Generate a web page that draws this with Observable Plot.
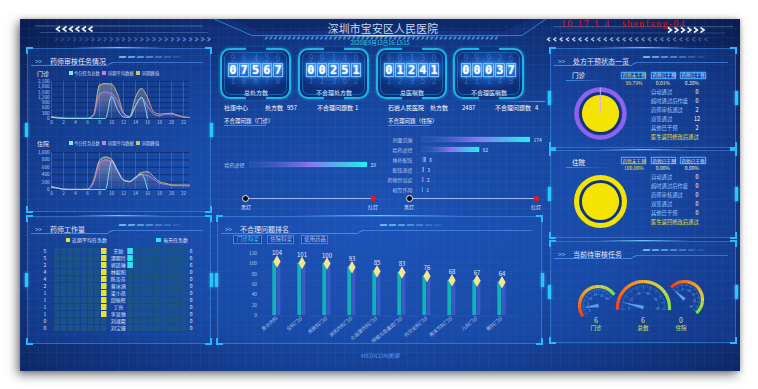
<!DOCTYPE html>
<html lang="zh"><head><meta charset="utf-8">
<script src="https://cdn.jsdelivr.net/npm/d3@7"></script>
<script src="https://cdn.jsdelivr.net/npm/@observablehq/plot@0.6"></script>
<style>
*{box-sizing:border-box}
html,body{margin:0;padding:0;width:758px;height:389px;overflow:hidden;background:#fff;font-family:"Noto Sans CJK SC","Noto Sans",sans-serif;}
body{position:relative}
#bg{position:absolute;left:20px;top:19px;width:720px;height:352px;
 background:
  repeating-linear-gradient(0deg, rgba(120,170,255,0.06) 0 1px, transparent 1px 9px),
  repeating-linear-gradient(90deg, rgba(120,170,255,0.06) 0 1px, transparent 1px 9px),
  radial-gradient(ellipse 72% 78% at 50% 58%, #1d52b6 0%, #17469f 45%, #0f2d72 80%, #0a1d50 100%);
 box-shadow:-3px 4px 10px rgba(0,0,0,0.5), 0 0 4px rgba(0,0,0,0.25);}
.panel{position:absolute;border:1px solid rgba(70,150,240,0.5);background:rgba(30,85,190,0.28);}
.cn{position:absolute;width:7px;height:7px;border-color:#29b9ff;border-style:solid;border-width:0}
svg{overflow:visible}
</style></head>
<body>
<div id="bg"></div>
<script>
// ===================== DATA =====================
const hours = d3.range(24);
const xHourTicks = d3.range(0, 23, 2);
// 门诊 (outpatient) audit tasks per hour
const outToday = [60,25,5,0,0,0,0,0,0,0,1250,520,90,60,720,1190,0];
const outAvg   = [80,50,15,10,10,10,10,160,1380,1510,1420,1000,250,100,720,1190,720,250,150,250,250,150,80,60];
const outPeak  = [100,60,20,15,15,15,15,220,1890,1980,1950,1380,340,110,1190,1700,1190,380,250,280,300,190,90,60];
// 住院 (inpatient)
const inToday  = [60,30,5,0,0,0,0,0,0,0,770,520,250,210,330,420,0];
const inAvg    = [70,40,10,5,5,5,5,180,700,800,760,480,250,210,300,400,380,280,170,140,110,105,105,100];
const inPeak   = [80,45,10,5,5,5,10,240,780,880,820,510,260,220,330,460,480,350,210,170,125,120,120,120];
const lineLegend = ["今日任务总数","同期平均数据","同期峰值"];

// 药师工作量
const pharmacists = ["王励","谭丽玲","郭凯琳","林毅阳","陈杏芳","曾冰涵","梁小燕","邱振辉","丁亮","李显驰","刘淑霞","刘宝珊"];
const recentAvgTasks = [5,5,2,4,4,2,1,1,1,1,0,0];
const todayTasks     = [6,6,6,0,0,0,0,0,0,0,0,0];

// counters
const counterLabels = ["总处方数","不合理处方数","总医嘱数","不合理医嘱数"];
const counterValues = [7567, 251, 1241, 37];
const sites = ["社康中心","石岩人民医院"];
const sitePrescriptions = [957, 2487];
const siteProblems = [1, 4];

// 不合理问题
const outProblemCats = ["给药途径"];
const outProblemVals = [29];
const inProblemCats = ["剂量范围","给药途径","体外配伍","配伍浓度","药物禁忌症","相互作用"];
const inProblemVals = [174, 92, 6, 3, 2, 1];

// 不合理问题排名
const rankTabs = ["门诊科室","住院科室","使用药品"];
const rankDepts = ["急诊内科","全科门诊","皮肤科门诊","消化内科门诊","心血管内科门诊","呼吸与危重症门诊","内分泌科门诊","骨关节科门诊","儿科门诊","眼科门诊"];
const rankValues = [104,101,100,93,85,83,76,68,67,64];

// 处方干预状态
const interveneHeads = ["药师未干预","药师已干预","药师已干预"];
const outInterPct = ["99.79%","0.01%","0.20%"];
const inInterPct = ["100.00%","0.00%","0.00%"];
const statusLabels = ["自动通过","超时通过后作废","药师审核通过","双签通过","其他已干预","医生返回修改后通过"];
const outStatus = [0,0,2,12,2];
const inStatus = [0,0,0,0,0];
const outUntouchedShare = 0.9979;
const inUntouchedShare = 1.0;

// 当前待审核任务
const gaugeLabels = ["门诊","总数","住院"];
const gaugeValues = [6, 6, 0];
const gaugeMax = [40, 60, 40];

// ===================== HELPERS =====================
const FONT = '"Noto Sans CJK SC","Noto Sans",sans-serif';
const root = document.body;
function el(tag, css, html){const e=document.createElement(tag);e.style.cssText=css;if(html!=null)e.innerHTML=html;root.appendChild(e);return e;}
function txt(s,x,y,size,color,anchor="start",extra=""){
  const tx = anchor==="middle"?"-50%":anchor==="end"?"-100%":"0";
  const ox = anchor==="middle"?"50%":anchor==="end"?"100%":"0";
  const k = size/12;
  return el("div",`position:absolute;left:${x}px;top:${y}px;font-size:12px;line-height:1;white-space:nowrap;color:${color};transform-origin:${ox} 50%;transform:translate(${tx},-50%) scale(${k});${extra}`, s);
}
function place(node,x,y){const d=el("div",`position:absolute;left:${x}px;top:${y}px;line-height:0`);d.appendChild(node);return d;}
function addDefs(svg, html){d3.select(svg).insert("defs",":first-child").html(html);}

function panel(x,y,w,h,title){
  el("div",`left:${x}px;top:${y}px;width:${w}px;height:${h}px`).className="panel";
  const c=(cx,cy,bw)=>{const d=el("div",`left:${cx}px;top:${cy}px;border-width:${bw}`);d.className="cn";};
  c(x-1,y-1,"2px 0 0 2px"); c(x+w-6,y-1,"2px 2px 0 0"); c(x-1,y+h-6,"0 0 2px 2px"); c(x+w-6,y+h-6,"0 2px 2px 0");
  el("div",`position:absolute;left:${x-2}px;top:${y+h/2-7}px;width:3px;height:14px;background:#2cc6ff;box-shadow:0 0 3px #2cc6ff`);
  el("div",`position:absolute;left:${x+w-1}px;top:${y+h/2-7}px;width:3px;height:14px;background:#2cc6ff;box-shadow:0 0 3px #2cc6ff`);
  el("div",`position:absolute;left:${x+w*0.25}px;top:${y-1}px;width:${w*0.5}px;height:1px;background:linear-gradient(90deg,transparent,#6cc6ff,transparent)`);
  if(title){
    txt("&gt;&gt;",x+8,y+13,6.5,"#8fc5ff");
    txt(title,x+23,y+13,7,"#e2eaff");
    el("div",`position:absolute;left:${x+4}px;top:${y+17}px;width:${w*0.42}px;height:1px;background:rgba(90,160,255,0.7)`);
    el("div",`position:absolute;left:${x+4+w*0.42}px;top:${y+15}px;width:5px;height:1px;background:rgba(90,160,255,0.7);transform:rotate(-25deg)`);
    el("div",`position:absolute;left:${x+8+w*0.42}px;top:${y+14}px;width:${w*0.56-12}px;height:1px;background:rgba(90,160,255,0.55)`);
    for(let i=0;i<7;i++){
      el("div",`position:absolute;left:${x+w*0.5+i*9}px;top:${y+8}px;width:7px;height:2px;background:rgba(110,195,255,${0.9-i*0.12});transform:skewX(-30deg)`);
    }
  }
}

// ===================== HEADER =====================
const hdr = d3.create("svg").attr("width",758).attr("height",50).style("position","absolute").style("left","0").style("top","0");
hdr.append("path").attr("d","M214,19 L252,35.5 L522,35.5 L546,19").attr("fill","none").attr("stroke","#2a7fe0").attr("stroke-width",1);
hdr.append("path").attr("d","M232,19 L258,31 L505,31 L530,19").attr("fill","rgba(10,30,80,0.35)").attr("stroke","none");
const hg = hdr.append("defs").append("linearGradient").attr("id","hglow");
hg.append("stop").attr("offset",0).attr("stop-color","#fff6c0").attr("stop-opacity",0);
hg.append("stop").attr("offset",0.5).attr("stop-color","#fff6c0").attr("stop-opacity",1);
hg.append("stop").attr("offset",1).attr("stop-color","#fff6c0").attr("stop-opacity",0);
for(let sx=264; sx<496; sx+=4.6){
  hdr.append("path").attr("d",`M${sx+2},36.5 L${sx+4.2},36.5 L${sx+2.6},39.5 L${sx+0.4},39.5 Z`).attr("fill","#3c8fe6");
}
hdr.append("rect").attr("x",320).attr("y",35).attr("width",120).attr("height",1.5).attr("fill","url(#hglow)");
// side decorations
hdr.append("line").attr("x1",35).attr("y1",26).attr("x2",203).attr("y2",26).attr("stroke","rgba(150,190,255,0.55)").attr("stroke-width",0.8);
hdr.append("line").attr("x1",40).attr("y1",32.5).attr("x2",208).attr("y2",32.5).attr("stroke","rgba(150,190,255,0.35)").attr("stroke-width",0.8);
hdr.append("line").attr("x1",553).attr("y1",26.7).attr("x2",733).attr("y2",26.7).attr("stroke","rgba(150,190,255,0.45)").attr("stroke-width",0.8);
hdr.append("line").attr("x1",560).attr("y1",33).attr("x2",725).attr("y2",33).attr("stroke","rgba(150,190,255,0.3)").attr("stroke-width",0.8);
for(let i=0;i<6;i++) hdr.append("path").attr("d",`M${60+i*6.5},26.5 L${56.5+i*6.5},29 L${60+i*6.5},31.5`).attr("fill","none").attr("stroke","#e8f0ff").attr("stroke-width",1.6);
for(let i=0;i<26;i++) hdr.append("path").attr("d",`M${55+i*6.1},37.5 L${57.5+i*6.1},39.3 L${55+i*6.1},41.1`).attr("fill","none").attr("stroke",`rgba(90,150,240,${0.25+i*0.025})`).attr("stroke-width",1.3);
for(let i=0;i<6;i++) hdr.append("path").attr("d",`M${668+i*6.5},27.5 L${671.5+i*6.5},30 L${668+i*6.5},32.5`).attr("fill","none").attr("stroke","#e8f0ff").attr("stroke-width",1.6);
for(let i=0;i<26;i++) hdr.append("path").attr("d",`M${550+i*6.3},37.5 L${547.5+i*6.3},39.3 L${550+i*6.3},41.1`).attr("fill","none").attr("stroke",`rgba(220,235,255,${0.95-i*0.03})`).attr("stroke-width",1.3);
root.appendChild(hdr.node());
txt("深圳市宝安区人民医院",383,27.5,10.8,"#c9dbf5","middle","letter-spacing:0.3px");
txt("2020年9月13日16:13:15",380,43,5.5,"#2fd6e0","middle");
txt("10.17.1.4&nbsp;&nbsp;&nbsp;shenfang-04",561,23.5,10,"#d31a1a","start","font-family:'Liberation Serif',serif;letter-spacing:1.6px");
txt("MEDICOM美康",380,355,6,"#5f93ea","middle","font-style:italic");

// ===================== PANELS =====================
panel(27,48,184,164,"药师审核任务情况");
panel(27,216,184,128,"药师工作量");
panel(217,216,325,128,"不合理问题排名");
panel(550,48,186,100,"处方干预状态一览");
panel(550,150,186,88,null);
panel(550,241,186,102,"当前待审核任务");

// ===================== LINE CHARTS =====================
const lineColors = ["#8ae8f2","#c67ee6","#d2bf74"];
function legendRow(y){
  const xs=[70.7,104,138.3];
  lineLegend.forEach((s,i)=>{
    el("div",`position:absolute;left:${xs[i]-2}px;top:${y-2}px;width:4px;height:4px;background:${lineColors[i]}`);
    txt(s,xs[i]+3.5,y,4.3,"#c8d6f2");
  });
}
function lineChart(x,y,today,avg,peak,yMax,yStep,id){
  const pts=(arr)=>arr.map((v,h)=>({h,v}));
  const yTicks=d3.range(0,yMax+1,yStep);
  const svg=Plot.plot({
    width:185,height:52,marginLeft:22,marginRight:25,marginTop:5,marginBottom:10,
    style:{background:"transparent",color:"#b9cbef",fontSize:"4.6px",fontFamily:FONT,overflow:"visible"},
    x:{domain:[0,23],ticks:xHourTicks,tickSize:0,tickPadding:2.5,label:null},
    y:{domain:[0,yMax],ticks:yTicks,tickSize:0,tickPadding:2,label:null,tickFormat:d3.format(",")},
    marks:[
      Plot.ruleY(yTicks,{stroke:"#0d2a66",strokeWidth:0.8}),
      Plot.ruleX(xHourTicks,{stroke:"#4383ea",strokeOpacity:0.6,strokeWidth:0.8}),
      Plot.areaY(pts(peak),{x:"h",y:"v",curve:"monotone-x",fill:`url(#${id}p)`}),
      Plot.areaY(pts(avg),{x:"h",y:"v",curve:"monotone-x",fill:`url(#${id}a)`}),
      Plot.line(pts(peak),{x:"h",y:"v",curve:"monotone-x",stroke:lineColors[2],strokeWidth:0.9}),
      Plot.line(pts(avg),{x:"h",y:"v",curve:"monotone-x",stroke:lineColors[1],strokeWidth:0.9}),
      Plot.line(pts(today),{x:"h",y:"v",curve:"monotone-x",stroke:lineColors[0],strokeWidth:0.9})
    ]
  });
  addDefs(svg,`<linearGradient id="${id}p" x1="0" y1="0" x2="0" y2="1"><stop offset="0" stop-color="#b8b4a8" stop-opacity="0.45"/><stop offset="1" stop-color="#b8b4a8" stop-opacity="0.02"/></linearGradient>
  <linearGradient id="${id}a" x1="0" y1="0" x2="0" y2="1"><stop offset="0" stop-color="#b090c8" stop-opacity="0.28"/><stop offset="1" stop-color="#b090c8" stop-opacity="0"/></linearGradient>`);
  place(svg,x,y);
}
txt("门诊",36.7,72.7,6,"#e0e8ff"); legendRow(72.7);
lineChart(29,76,outToday,outAvg,outPeak,2100,300,"go");
txt("住院",36.7,142.7,6,"#e0e8ff"); legendRow(142.7);
lineChart(29,146.7,inToday,inAvg,inPeak,1000,200,"gi");

// ===================== WORKLOAD GRID =====================
el("div",`position:absolute;left:65.5px;top:237.5px;width:4.5px;height:4.5px;background:#e6e42a`);
txt("近期平均任务数",72,239.8,5,"#dbe4ff");
el("div",`position:absolute;left:156px;top:237.5px;width:4.5px;height:4.5px;background:#2ee6f2`);
txt("当天任务数",162.5,239.8,5,"#dbe4ff");
(function(){
  const perCell=10, leftN=8, rightN=9, rightStart=10.95;
  const cells=[];
  pharmacists.forEach((name,i)=>{
    const lc=Math.ceil(recentAvgTasks[i]/perCell), rc=Math.ceil(todayTasks[i]/perCell);
    for(let j=0;j<leftN;j++) cells.push({name,x1:j,x2:j+0.83,fill:j>=leftN-lc?"#e6e42a":"#1a5385"});
    for(let j=0;j<rightN;j++) cells.push({name,x1:rightStart+j,x2:rightStart+j+0.83,fill:j<rc?"#2ee6f2":"#1a5385"});
  });
  const rows=pharmacists.map((name,i)=>({name,l:recentAvgTasks[i],r:todayTasks[i]}));
  const svg=Plot.plot({
    width:180,height:90,marginLeft:0,marginRight:0,marginTop:0,marginBottom:0,
    style:{background:"transparent",fontFamily:FONT,overflow:"visible"},
    x:{domain:[-3.64,23.34],axis:null},
    y:{domain:pharmacists,padding:0.2,axis:null},
    marks:[
      Plot.barX(cells,{x1:"x1",x2:"x2",y:"name",fill:d=>d.fill}),
      Plot.text(rows,{x:()=>-1.5,y:"name",text:"l",fill:"#dce6ff",fontSize:5}),
      Plot.text(rows,{x:()=>9.5,y:"name",text:"name",fill:"#dce6ff",fontSize:5}),
      Plot.text(rows,{x:()=>20.45,y:"name",text:"r",fill:"#dce6ff",fontSize:5})
    ]
  });
  place(svg,30,244.2);
})();

// ===================== COUNTERS =====================
const boxX=[220,298,376,453];
counterValues.forEach((v,i)=>{
  const x=boxX[i], y=48, w=71, h=51;
  el("div",`position:absolute;left:${x}px;top:${y}px;width:${w}px;height:${h}px;border:2px solid #16b8e8;border-radius:10px;background:radial-gradient(ellipse 60% 45% at 50% 40%, #2a78e6 0%, #14479f 65%, #0d2f78 100%);box-shadow:0 0 3px rgba(30,190,240,0.6)`);
  el("div",`position:absolute;left:${x+4}px;top:${y+4}px;width:${w-8}px;height:${h-8}px;border:1px solid rgba(40,160,230,0.45);border-radius:7px`);
  el("div",`position:absolute;left:${x+w/2-10}px;top:${y-1}px;width:20px;height:3px;background:#10337d`);
  el("div",`position:absolute;left:${x+w/2-10}px;top:${y+h-2}px;width:20px;height:3px;background:#123a88`);
  const digits=String(v).padStart(5,"0").split("").map(Number);
  const cw=10.6, gap=0.7, total=5*cw+4*gap, sx=x+(w-total)/2;
  digits.forEach((d,j)=>{
    const dx=sx+j*(cw+gap);
    txt(String((d+9)%10),dx+cw/2,57.5,8,"rgba(170,205,255,0.28)","middle","font-family:'DejaVu Sans Mono',monospace");
    txt(String((d+1)%10),dx+cw/2,81,8,"rgba(170,205,255,0.28)","middle","font-family:'DejaVu Sans Mono',monospace");
    el("div",`position:absolute;left:${dx}px;top:63px;width:${cw}px;height:13.5px;background:linear-gradient(180deg,#3b8ef5,#1b5fd2);border:1px solid #79c1ff;box-shadow:0 0 3px #4aa8ff`);
    txt(String(d),dx+cw/2,69.8,12,"#ffffff","middle","font-family:'DejaVu Sans Mono',monospace;font-weight:bold;text-shadow:0 0 2px #bfe4ff");
  });
  txt(counterLabels[i],x+w/2,92,6,"#e2eaff","middle");
});
const infoY=106.5;
txt(sites[0],224,infoY,6,"#ffffff"); txt("处方数",265,infoY,6,"#ffffff"); txt(String(sitePrescriptions[0]),287,infoY,6,"#ffffff");
txt("不合理问题数",317,infoY,6,"#ffffff"); txt(String(siteProblems[0]),355,infoY,6,"#ffffff");
txt(sites[1],388,infoY,6,"#ffffff"); txt("处方数",430,infoY,6,"#ffffff"); txt(String(sitePrescriptions[1]),462,infoY,6,"#ffffff");
txt("不合理问题数",495,infoY,6,"#ffffff"); txt(String(siteProblems[1]),535,infoY,6,"#ffffff");
el("div",`position:absolute;left:500px;top:101px;width:45px;height:1px;background:linear-gradient(90deg,transparent,#4aa8ff)`);

// ===================== HORIZONTAL BARS =====================
txt("不合理问题（门诊）",224,120.5,5.5,"#ffffff");
el("div",`position:absolute;left:224px;top:124.5px;width:42px;height:1px;background:#3d8cf0`);
txt("不合理问题（住院）",388,120.5,5.5,"#ffffff");
el("div",`position:absolute;left:388px;top:124.5px;width:42px;height:1px;background:#3d8cf0`);
function hbars(x,y,cats,vals,width,mL,mR,pad,id){
  const data=cats.map((c,i)=>({c,v:vals[i]}));
  const svg=Plot.plot({
    width,height:cats.length*10.4,marginLeft:mL,marginRight:mR,marginTop:0,marginBottom:0,
    style:{background:"transparent",color:"#b8c8f0",fontSize:"5px",fontFamily:FONT,overflow:"visible"},
    x:{domain:[0,d3.max(vals)],axis:null},
    y:{domain:cats,paddingInner:0.55,paddingOuter:0.275,tickSize:0,tickPadding:pad,label:null},
    marks:[
      Plot.barX(data,{x:"v",y:"c",fill:`url(#${id})`}),
      Plot.barX(data,{x:"v",y:"c",fill:"none",stroke:"#9ff",strokeOpacity:0.25,strokeWidth:0.4}),
      Plot.text(data,{x:"v",y:"c",text:"v",dx:3,textAnchor:"start",fill:"#d8e4ff",fontSize:5})
    ]
  });
  addDefs(svg,`<linearGradient id="${id}" x1="0" y1="0" x2="1" y2="0"><stop offset="0" stop-color="#3a5fd0" stop-opacity="0.15"/><stop offset="0.5" stop-color="#8a70f0"/><stop offset="1" stop-color="#1ff0f0"/></linearGradient>`);
  place(svg,x,y);
}
hbars(218,159.3,outProblemCats,outProblemVals,164,32,15,6,"hbo");
hbars(380,133.1,inProblemCats,inProblemVals,165,42,15,10,"hbi");
function slider(x1,x2,y){
  el("div",`position:absolute;left:${x1}px;top:${y-0.75}px;width:${x2-x1}px;height:1.5px;background:rgba(180,205,255,0.85)`);
  el("div",`position:absolute;left:${x1-3.5}px;top:${y-3.5}px;width:7px;height:7px;border-radius:50%;background:#000;border:1.3px solid #e8eeff`);
  el("div",`position:absolute;left:${x2-2.7}px;top:${y-2.7}px;width:5.4px;height:5.4px;border-radius:50%;background:#ff1010`);
  txt("黑灯",x1,y+8.3,5,"#dfe8ff","middle"); txt("红灯",x2,y+8.3,5,"#dfe8ff","middle");
}
slider(245.7,373.3,198.3); slider(409,536.3,198.3);

// ===================== RANKING CHART =====================
rankTabs.forEach((t,i)=>{
  const tx=[233,267,301][i], tw=[29,27,27][i];
  el("div",`position:absolute;left:${tx}px;top:235px;width:${tw}px;height:8.5px;border:1px solid rgba(60,150,255,0.8);background:rgba(20,60,150,0.6)`);
  txt(t,tx+tw/2,239.3,5.5,i===0?"#3ed0ff":"#a9c6ff","middle");
});
(function(){
  const rk=rankDepts.map((d,i)=>({d,v:rankValues[i]}));
  const yT=d3.range(0,121,20);
  const half=25.65/2;
  const svg=Plot.plot({
    width:290,height:105,marginLeft:20.5,marginRight:13,marginTop:12.7,marginBottom:30,
    style:{background:"transparent",color:"#b5c6ee",fontSize:"4.8px",fontFamily:FONT,overflow:"visible"},
    x:{domain:rankDepts,padding:0,tickSize:0,tickRotate:-40,tickPadding:2,label:null},
    y:{domain:[0,120],ticks:yT,tickSize:0,tickPadding:4,label:null},
    marks:[
      Plot.ruleY(yT,{stroke:"#2450a8",strokeWidth:0.8}),
      Plot.barY(rk,{x:"d",y:"v",fill:"#11b3b8",insetLeft:half-4.5,insetRight:half}),
      Plot.barY(rk,{x:"d",y:"v",fill:"#3c58c9",insetLeft:half,insetRight:half-4.2}),
      Plot.dot(rk,{x:"d",y:"v",symbol:"diamond",r:3.8,fill:"#f3e68e"}),
      Plot.text(rk,{x:"d",y:"v",text:"v",dy:-8,fill:"#e3ebff",fontSize:6})
    ]
  });
  place(svg,240,240);
})();

// ===================== INTERVENTION STATUS =====================
function statusBlock(labelY, name, headY, pctY, pcts, rowYs, vals, cy, ringColor, ringW, share){
  txt(name,572,labelY,6.5,"#ffffff");
  el("div",`position:absolute;left:566px;top:${labelY+5}px;width:42px;height:1px;background:linear-gradient(90deg,#3d8cf0,transparent)`);
  const hx=[621,651,680], hw=[25,25,26], pctX=[634,663,692];
  interveneHeads.forEach((h,i)=>{
    el("div",`position:absolute;left:${hx[i]}px;top:${headY-3.5}px;width:${hw[i]}px;height:7px;border:1px solid #3aa4ff;background:#173f99;box-shadow:0 0 2px #3aa4ff`);
    txt(h,hx[i]+hw[i]/2,headY,4.6,i===0?"#f3e23a":"#e4ecff","middle");
    txt(pcts[i],pctX[i],pctY,5,i===0?"#f3e23a":"#e8ecd2","middle");
  });
  statusLabels.forEach((s,i)=>{
    txt(s,650.5,rowYs[i],5.3,i===statusLabels.length-1?"#e8e040":"#9fc6ff");
    if(i<vals.length) txt(String(vals[i]),697.3,rowYs[i],5.5,"#ffffff","middle");
  });
  const ang=share*2*Math.PI;
  const svg=Plot.plot({
    width:64,height:64,marginLeft:0,marginRight:0,marginTop:0,marginBottom:0,
    style:{background:"transparent",overflow:"visible"},
    x:{domain:[-32,32],axis:null}, y:{domain:[-32,32],axis:null},
    marks:[
      Plot.dot([{x:0,y:0}],{x:"x",y:"y",r:21,fill:"#15307a",stroke:"none"}),
      Plot.dot([{x:0,y:0}],{x:"x",y:"y",r:24,stroke:ringColor,strokeWidth:ringW,fill:"none"}),
      Plot.dot([{x:0,y:0}],{x:"x",y:"y",r:18.6,fill:"#f5e400",stroke:"none"}),
      Plot.link(share<1?[{a:0},{a:ang}]:[],{x1:()=>0,y1:()=>0,x2:d=>Math.sin(d.a)*26,y2:d=>Math.cos(d.a)*26,stroke:"#d7a8ff",strokeWidth:0.6})
    ]
  });
  place(svg,600-32,cy-32);
}
statusBlock(75,"门诊",75,82.7,outInterPct,[91.7,100.7,110,119,128,137],outStatus,113.3,"#8b63f0",4.5,outUntouchedShare);
statusBlock(162,"住院",160.7,168.3,inInterPct,[177.3,186.3,195.3,204.3,213.3,222.3],inStatus,200.7,"#f5e400",5,inUntouchedShare);

// ===================== GAUGES =====================
const gaugeGeom=[{cx:598,cy:305,r:19,a0:-125,a1:55},{cx:643,cy:306.5,r:26,a0:-95,a1:95},{cx:684.3,cy:299,r:18,a0:-48,a1:138}];
const gColor=d3.interpolateRgbBasis(["#ff3a1a","#ff8a1a","#f3df3a","#6fe84a"]);
gaugeValues.forEach((v,gi)=>{
  const g=gaugeGeom[gi], S=70, n=48;
  const A=t=>(g.a0+(g.a1-g.a0)*t)*Math.PI/180;
  const segs=d3.range(n).map(i=>({t0:i/n,t1:(i+1)/n+0.004}));
  const ticks=d3.range(0,51).map(i=>({t:i/50,major:i%5===0}));
  const labels=d3.range(0,11,2).map(i=>({t:i/10,s:String(Math.round(gaugeMax[gi]*i/10))}));
  const tv=Math.min(v/gaugeMax[gi],1), na=A(tv), perp=na+Math.PI/2;
  const nL=g.r*0.72, nw=1.6;
  const needle=[{x:Math.sin(perp)*nw,y:Math.cos(perp)*nw},{x:Math.sin(na)*nL,y:Math.cos(na)*nL},{x:-Math.sin(perp)*nw,y:-Math.cos(perp)*nw}];
  const svg=Plot.plot({
    width:S,height:S,marginLeft:0,marginRight:0,marginTop:0,marginBottom:0,
    style:{background:"transparent",overflow:"visible",fontFamily:FONT},
    x:{domain:[-S/2,S/2],axis:null}, y:{domain:[-S/2,S/2],axis:null},
    marks:[
      Plot.link(segs,{x1:d=>Math.sin(A(d.t0))*g.r,y1:d=>Math.cos(A(d.t0))*g.r,x2:d=>Math.sin(A(d.t1))*g.r,y2:d=>Math.cos(A(d.t1))*g.r,stroke:d=>gColor(d.t0),strokeWidth:3.2}),
      Plot.link(segs,{x1:d=>Math.sin(A(d.t0))*g.r*0.58,y1:d=>Math.cos(A(d.t0))*g.r*0.58,x2:d=>Math.sin(A(d.t1))*g.r*0.58,y2:d=>Math.cos(A(d.t1))*g.r*0.58,stroke:"#2f6fd0",strokeWidth:0.5}),
      Plot.link(ticks,{x1:d=>Math.sin(A(d.t))*g.r*(d.major?0.7:0.78),y1:d=>Math.cos(A(d.t))*g.r*(d.major?0.7:0.78),x2:d=>Math.sin(A(d.t))*g.r*0.86,y2:d=>Math.cos(A(d.t))*g.r*0.86,stroke:"#3d85e0",strokeWidth:d=>d.major?0.7:0.35}),
      Plot.text(labels,{x:d=>Math.sin(A(d.t))*g.r*0.55,y:d=>Math.cos(A(d.t))*g.r*0.55,text:"s",fill:"#6fa6ee",fontSize:2.8}),
      Plot.line(needle,{x:"x",y:"y",fill:"#5fa3ef",stroke:"#5fa3ef",strokeWidth:0.4})
    ]
  });
  place(svg,g.cx-S/2,g.cy-S/2);
  txt(String(v),[596,643,681][gi],320,7,"#d6ea6a","middle");
  txt(gaugeLabels[gi],[596,643,681][gi],328.3,5.5,"#d6ea6a","middle");
});
</script>
</body></html>
